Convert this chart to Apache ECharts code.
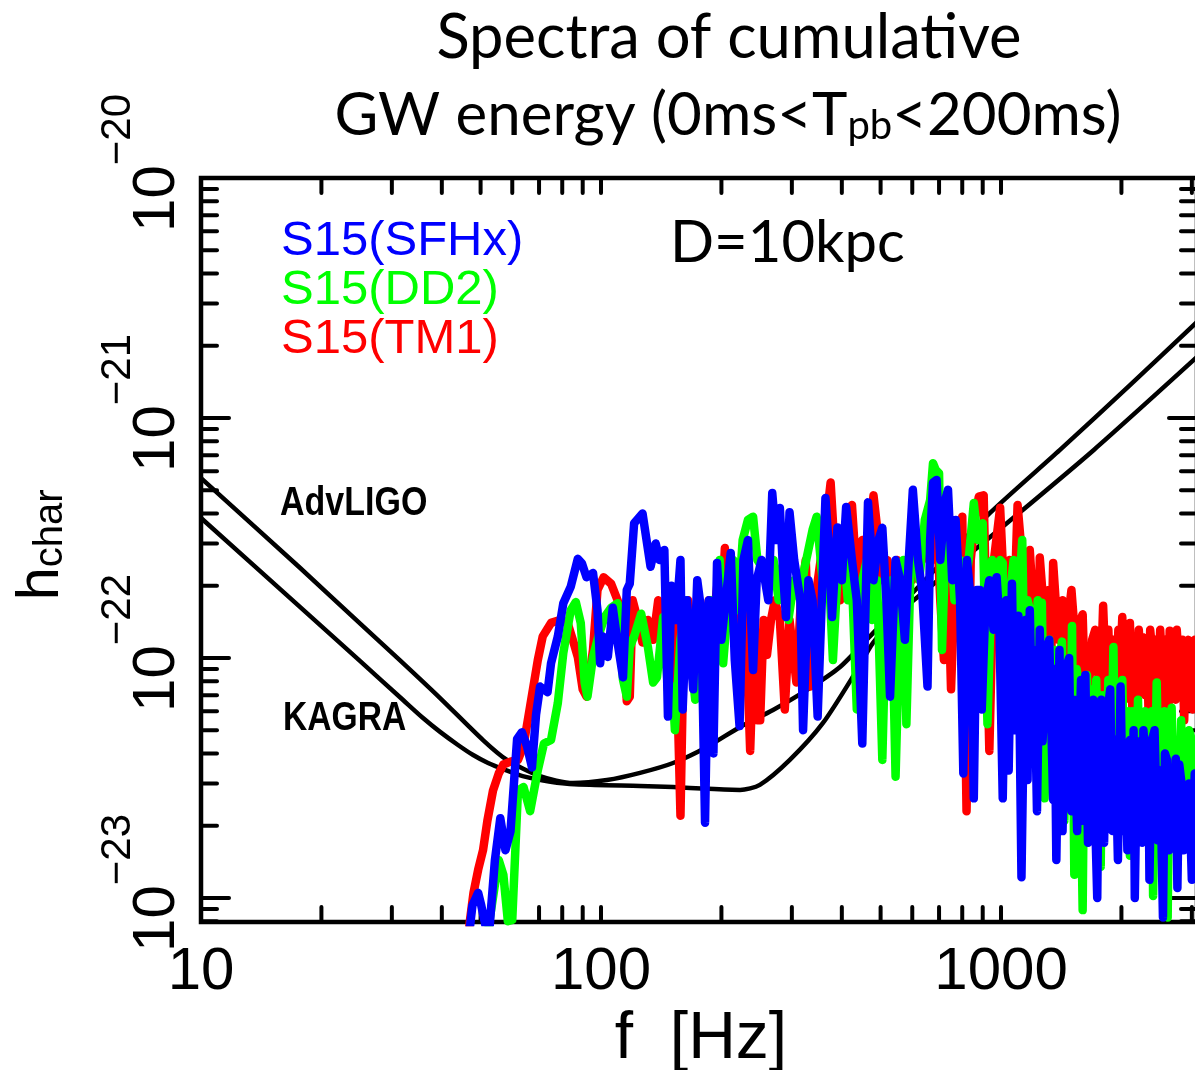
<!DOCTYPE html>
<html><head><meta charset="utf-8">
<script src="https://cdn.jsdelivr.net/npm/echarts@6/dist/echarts.min.js"></script>
<style>html,body{margin:0;padding:0;background:#fff}#chart{width:1195px;height:1070px}</style>
</head><body><div id="chart"></div>
<script>
// h values are given in units of 1e-22
const UNIT = 1e-22;
const X_MIN = 10, X_MAX = 3090, Y_MIN = 7.94e-24, Y_MAX = 1e-20;

const xTickValues = [20,30,40,50,60,70,80,90,100,200,300,400,500,600,700,800,900,1000,2000,3000];
const yMajorTicks = [1e-23, 1e-22, 1e-21];
const yMinorTicks = [8e-24,9e-24,2e-23,3e-23,4e-23,5e-23,6e-23,7e-23,8e-23,9e-23,
  2e-22,3e-22,4e-22,5e-22,6e-22,7e-22,8e-22,9e-22,2e-21,3e-21,4e-21,5e-21,6e-21,7e-21,8e-21,9e-21];

const advLIGO = [[10,5.62],[17.7,2.37],[25,1.39],[31.4,0.98],[39.6,0.681],[50.7,0.455],[58.2,0.376],[70.4,0.322],[85.1,0.301],[103.5,0.310],[125.2,0.332],[151.4,0.365],[184.1,0.426],[222.6,0.516],[269.2,0.607],[327.3,0.736],[395.9,0.917],[478.6,1.27],[627.3,2.01],[938.6,4.02],[1404,7.36],[2101,13.7],[3090,25.1]];
const kagra = [[10,3.83],[17.7,1.63],[25,0.97],[32,0.668],[35.9,0.562],[39.6,0.492],[43.9,0.434],[47.9,0.394],[52.2,0.365],[57.5,0.342],[63.7,0.322],[77.6,0.302],[93.8,0.296],[125.2,0.293],[151.4,0.290],[184.1,0.285],[222.6,0.282],[249.5,0.296],[296.5,0.376],[358.9,0.536],[436.5,0.891],[478.6,1.155],[559.8,1.556],[664.3,1.977],[788.4,2.51],[1009,3.52],[1706,7.36],[3090,17.95]];

const s15SFHx = [[46,0.055],[47.7,0.093],[49.3,0.105],[50.2,0.093],[51.4,0.077],[52.6,0.074],[54.3,0.144],[56,0.215],[57.7,0.158],[59.4,0.19],
[61.7,0.46],[63.4,0.49],[65.3,0.43],[67.2,0.35],[68.8,0.58],[70.4,0.76],[73.5,0.72],[75,0.95],[78,1.23],[80.5,1.69],
[84,1.98],[87.5,2.59],[89.6,2.48],[92,2.17],[95.5,2.26],[98,1.58],[99.5,0.95],[101,1.23],[104,1.01],[107,1.62],
[110,1.16],[113.5,0.83],[116,1.92],[118,2.04],[121,3.64],[127,4.0],[133,2.4],[137,3.0],[140,2.56],[144,2.82],
[147,0.57],[150,2.0],[154,1.44],[158,2.56],[160,0.61],[164,1.74],[170,0.74],[174,2.11],[178,1.58],[182,0.206],
[186,1.74],[191,0.40],[195,2.49],[200,1.19],[205,1.74],[211,2.74],[216,0.98],[222,0.52],[227,2.56],[233,3.10],
[240,0.89],[245,2.11],[252,2.56],[262,1.74],[268,4.87],[274,3.10],[280,4.22],[286,2.11],[290,1.48],[296,4.05],
[304,2.56],[315,1.74],[320,0.50],[330,2.11],[338,1.74],[348,0.57],[364,4.64],[373,2.56],[378,1.48],[390,3.5],
[400,2.11],[410,4.26],[424,2.56],[436,1.74],[450,0.44],[465,4.45],[480,2.11],[494,3.10],[505,3.49],[517,1.74],
[528,0.69],[545,2.56],[560,2.11],[575,1.19],[588,2.56],[602,5.02],[620,2.56],[635,1.92],[655,0.76],[665,3.10],
[676,5.38],[690,5.52],[705,2.56],[725,4.55],[737,5.02],[755,2.11],[770,3.76],[790,1.74],[805,0.33],[822,2.56],
[840,1.74],[855,0.26],[870,1.92],[885,1.92],[895,0.61],[915,1.74],[935,2.11],[958,1.31],[975,2.17],[990,1.44],
[1010,0.26],[1030,1.74],[1045,0.34],[1065,2.04],[1080,0.5],[1090,1.19],[1105,1.5],[1125,0.122],[1150,1.44],[1165,0.31],
[1180,1.58],[1195,0.6],[1210,1.08],[1230,0.23],[1250,1.31],[1270,0.45],[1285,0.67],[1300,1.1],[1320,1.19],[1350,0.256],
[1360,0.9],[1375,0.144],[1400,1.08],[1425,0.19],[1450,0.81],[1465,0.95],[1480,1.0],[1500,0.23],[1520,0.67],[1550,0.19],
[1585,0.81],[1600,0.21],[1625,0.85],[1650,0.17],[1670,0.55],[1700,0.67],[1720,0.21],[1740,0.10],[1760,0.6],[1780,0.67],
[1810,0.17],[1835,0.55],[1875,0.74],[1900,0.19],[1930,0.455],[1960,0.144],[1990,0.76],[2020,0.19],[2045,0.376],[2070,0.158],
[2100,0.455],[2130,0.21],[2145,0.5],[2160,0.10],[2190,0.45],[2220,0.376],[2250,0.17],[2270,0.5],[2290,0.41],[2320,0.19],
[2335,0.45],[2350,0.119],[2380,0.45],[2420,0.50],[2460,0.174],[2500,0.34],[2540,0.083],[2570,0.40],[2600,0.376],[2630,0.158],
[2650,0.34],[2680,0.174],[2710,0.256],[2735,0.38],[2760,0.11],[2790,0.36],[2820,0.31],[2860,0.158],[2900,0.28],[2950,0.30],
[3000,0.119],[3050,0.33],[3100,0.28]];

const s15DD2 = [[51,0.055],[52.6,0.080],[55.5,0.144],[57,0.125],[58.5,0.080],[60,0.081],[62,0.28],[64,0.29],[66.5,0.23],[69.5,0.34],
[72,0.44],[75,0.455],[78,0.65],[80.5,1.05],[84,1.58],[86.5,1.71],[89,1.40],[91,0.79],[92.5,0.69],[95.5,1.01],
[98.5,1.23],[102,1.48],[106,1.62],[110,1.69],[113.5,0.81],[116,0.69],[118,1.11],[121,1.23],[126,1.53],[131,1.11],
[135,0.79],[138,0.83],[143,1.48],[147,0.74],[151,0.76],[153,0.50],[158,1.19],[163,1.74],[167,1.08],[172,0.67],
[177,1.44],[182,0.98],[188,1.74],[193,1.31],[198,2.56],[202,0.95],[208,1.74],[214,2.56],[220,1.58],[226,3.10],
[233,3.76],[240,3.88],[246,2.56],[255,2.33],[264,1.98],[270,2.56],[278,1.74],[286,2.56],[294,1.44],[304,2.11],
[315,1.74],[322,2.33],[338,3.42],[346,3.88],[358,2.11],[370,2.56],[380,0.98],[392,2.56],[402,3.10],[414,1.74],
[424,2.11],[436,0.61],[450,2.11],[462,2.56],[476,1.44],[490,2.11],[505,0.376],[517,1.74],[532,2.11],[545,0.32],
[560,1.74],[570,2.56],[580,0.53],[595,2.56],[610,3.42],[625,2.11],[645,3.76],[665,4.55],[676,6.48],[687,6.07],
[700,5.88],[712,1.08],[730,3.76],[748,3.10],[765,1.74],[790,2.56],[805,1.74],[830,2.56],[855,4.42],[875,3.10],
[900,3.64],[925,0.53],[950,2.56],[970,1.74],[995,2.56],[1010,2.49],[1020,0.52],[1050,1.74],[1075,2.56],[1090,0.67],
[1105,1.74],[1130,3.10],[1150,0.55],[1165,1.74],[1200,1.44],[1215,0.50],[1235,1.74],[1250,0.55],[1265,1.70],[1285,0.26],
[1320,1.19],[1340,0.41],[1360,1.08],[1385,0.376],[1400,0.98],[1420,1.17],[1440,0.21],[1460,0.9],[1475,0.98],[1490,0.41],
[1505,1.36],[1525,0.125],[1545,0.9],[1560,0.81],[1580,0.34],[1600,0.089],[1620,0.8],[1640,0.85],[1660,0.31],[1690,0.74],
[1710,0.28],[1730,0.81],[1775,0.135],[1795,0.7],[1815,0.67],[1835,0.31],[1855,0.81],[1880,0.28],[1910,1.11],[1930,0.31],
[1955,0.67],[1980,0.3],[2010,0.81],[2035,0.28],[2060,0.55],[2080,0.6],[2100,0.15],[2125,0.6],[2150,0.55],[2175,0.256],
[2200,0.67],[2230,0.28],[2260,0.455],[2290,0.6],[2320,0.55],[2360,0.23],[2380,0.6],[2400,0.102],[2450,0.79],[2480,0.256],
[2520,0.455],[2560,0.6],[2610,0.083],[2640,0.55],[2670,0.62],[2700,0.21],[2740,0.376],[2780,0.256],[2820,0.55],[2860,0.23],
[2900,0.31],[2950,0.5],[3000,0.455],[3050,0.21],[3100,0.31]];

const s15TM1 = [[46,0.055],[47,0.080],[48,0.105],[49.3,0.131],[50.7,0.158],[52,0.21],[53.7,0.28],[55.5,0.33],[57,0.36],[59.4,0.37],
[62,0.376],[64,0.43],[66.5,0.63],[69.5,0.98],[71.5,1.23],[75,1.40],[79,1.44],[82.5,1.40],[85,1.19],[87.5,1.01],
[90,0.74],[92,0.69],[95.5,1.08],[98,1.92],[101.5,2.17],[106,2.04],[110,1.74],[113.5,1.48],[116,0.66],[118,0.69],
[120,1.74],[123,1.48],[127,1.16],[131,1.44],[135,1.19],[139,1.74],[143,1.44],[147,1.08],[150,1.74],[154,1.19],
[158,0.22],[161,1.19],[165,1.74],[169,1.19],[174,1.44],[179,1.08],[186,1.74],[191,1.44],[196,2.11],[200,1.44],
[204,2.87],[210,1.74],[217,1.19],[222,1.74],[230,1.44],[236,0.41],[242,1.44],[246,0.55],[250,0.55],[255,1.44],
[260,1.03],[266,1.44],[272,1.74],[280,1.44],[288,0.61],[296,1.44],[308,0.79],[316,1.74],[325,2.56],[333,0.76],
[343,1.74],[354,2.56],[366,3.76],[375,5.38],[385,2.56],[396,1.74],[405,3.10],[414,4.14],[424,4.34],[436,2.11],
[450,3.10],[462,2.56],[480,4.76],[494,3.10],[505,2.11],[520,2.56],[535,1.74],[550,2.56],[565,2.11],[580,2.56],
[600,2.11],[615,3.10],[635,2.56],[650,3.76],[672,2.56],[690,3.76],[705,1.74],[720,0.98],[735,2.56],[750,0.74],
[770,2.56],[785,3.10],[800,3.88],[820,0.23],[840,2.56],[860,3.76],[880,4.70],[905,4.76],[935,0.41],[960,2.56],
[995,4.23],[1020,1.74],[1050,2.56],[1070,0.98],[1100,4.34],[1130,2.56],[1150,1.74],[1180,2.82],[1210,1.44],[1235,0.81],
[1250,2.62],[1285,1.44],[1315,1.92],[1330,0.74],[1350,2.49],[1390,1.19],[1425,1.74],[1450,0.67],[1470,1.44],[1500,1.92],
[1520,1.44],[1545,0.81],[1580,1.44],[1600,1.52],[1620,0.74],[1650,0.67],[1690,1.19],[1720,1.31],[1740,0.98],[1770,0.67],
[1800,1.65],[1830,0.8],[1855,1.31],[1880,0.61],[1910,1.19],[1940,0.7],[1965,1.31],[1990,0.98],[2010,1.48],[2035,0.67],
[2060,1.2],[2080,0.81],[2100,1.40],[2130,0.61],[2160,1.1],[2185,0.67],[2210,1.31],[2235,0.98],[2260,1.22],[2290,0.7],
[2320,1.08],[2340,0.55],[2360,1.31],[2400,0.98],[2430,1.19],[2460,0.67],[2500,1.31],[2540,0.81],[2570,0.61],[2600,1.2],
[2620,0.55],[2640,1.30],[2670,0.7],[2700,1.1],[2730,0.67],[2750,1.31],[2800,0.81],[2840,1.19],[2870,0.55],[2900,1.0],
[2940,1.19],[2980,0.98],[3010,0.61],[3050,1.19],[3100,0.74]];

const toData = arr => arr.map(p => [p[0], p[1] * UNIT]);
const SANS = 'Liberation Sans';
const SLIDE = 'Lato';
const tickStyle = {stroke: '#000', lineWidth: 4, lineCap: 'round'};

function xTickRender(params, api) {
  const f = api.value(0);
  const b = api.coord([f, Y_MIN]);
  const t = api.coord([f, Y_MAX]);
  return {type: 'group', children: [
    {type: 'line', shape: {x1: b[0], y1: b[1], x2: b[0], y2: b[1] - 15}, style: tickStyle},
    {type: 'line', shape: {x1: t[0], y1: t[1], x2: t[0], y2: t[1] + 15}, style: tickStyle}
  ]};
}
function yTickRender(params, api) {
  const h = api.value(1);
  const len = api.value(2) ? 28 : 16;
  const l = api.coord([X_MIN, h]);
  const r = api.coord([X_MAX, h]);
  return {type: 'group', children: [
    {type: 'line', shape: {x1: l[0], y1: l[1], x2: l[0] + len, y2: l[1]}, style: tickStyle},
    {type: 'line', shape: {x1: r[0], y1: r[1], x2: r[0] - len, y2: r[1]}, style: tickStyle}
  ]};
}

const chart = echarts.init(document.getElementById('chart'), null, {renderer: 'canvas'});
const dataLine = (name, arr, color, z) => ({
  name, type: 'line', data: toData(arr), showSymbol: false, symbol: 'none', clip: true, z, silent: true,
  lineStyle: {color, width: 8.5, cap: 'round', join: 'round'}, itemStyle: {color}
});
const detLine = (name, arr) => ({
  name, type: 'line', data: toData(arr), showSymbol: false, symbol: 'none', smooth: 0.25, clip: true, z: 2, silent: true,
  lineStyle: {color: '#000', width: 4.5, join: 'round'}
});

chart.setOption({
  animation: false,
  backgroundColor: '#fff',
  grid: {left: 201, top: 178, width: 996, height: 744, show: true, borderColor: '#000', borderWidth: 4.5,
         backgroundColor: 'transparent', containLabel: false, outerBoundsMode: 'none'},
  xAxis: {type: 'log', logBase: 10, min: X_MIN, max: X_MAX,
    axisLine: {show: false}, axisTick: {show: false}, splitLine: {show: false},
    axisLabel: {show: true, color: '#000', fontSize: 60, fontFamily: SANS, margin: 20, showMaxLabel: false,
      formatter: v => { const e = Math.log10(v); return Math.abs(e - Math.round(e)) < 1e-6 ? String(Math.round(v)) : ''; }}},
  yAxis: {type: 'log', logBase: 10, min: Y_MIN, max: Y_MAX,
    axisLine: {show: false}, axisTick: {show: false}, splitLine: {show: false},
    axisLabel: {show: true, rotate: 90, margin: 14, showMinLabel: false, padding: [0, 0, 0, 30],
      formatter: v => { const e = Math.log10(v); if (Math.abs(e - Math.round(e)) > 1e-6) return ''; return '{b|10}{s|\u2212' + (-Math.round(e)) + '}'; },
      rich: {
        b: {fontSize: 60, fontFamily: SANS, color: '#000', lineHeight: 90, verticalAlign: 'bottom'},
        s: {fontSize: 42, fontFamily: SANS, color: '#000', lineHeight: 43, verticalAlign: 'top'}
      }}},
  legend: {orient: 'vertical', left: 271, top: 212, itemGap: 0, icon: 'none', itemWidth: 0, itemHeight: 0, selectedMode: false,
    textStyle: {fontSize: 49, fontFamily: SANS, lineHeight: 48},
    data: [
      {name: 'S15(SFHx)', textStyle: {color: '#0000ff'}},
      {name: 'S15(DD2)', textStyle: {color: '#00ff00'}},
      {name: 'S15(TM1)', textStyle: {color: '#ff0000'}}
    ]},
  graphic: [
    {type: 'text', x: 729, y: 38, style: {text: 'Spectra of cumulative', fontSize: 61.5, fontFamily: SLIDE, fill: '#000', align: 'center', verticalAlign: 'middle'}},
    {type: 'text', x: 728, y: 116, style: {text: '{m|GW energy (0ms<T}{s|pb}{m|<200ms)}', align: 'center', verticalAlign: 'middle',
      rich: {m: {fontSize: 60, fontFamily: SLIDE, fill: '#000', color: '#000', lineHeight: 60, verticalAlign: 'top'},
             s: {fontSize: 40, fontFamily: SLIDE, fill: '#000', color: '#000', lineHeight: 14, verticalAlign: 'bottom'}}}},
    {type: 'text', x: 670, y: 243, style: {text: 'D=10kpc', fontSize: 58, fontFamily: SLIDE, fill: '#000', align: 'left', verticalAlign: 'middle'}},
    {type: 'text', x: 280, y: 504, scaleX: 0.85, style: {text: 'AdvLIGO', fontSize: 40, fontWeight: 'bold', fontFamily: SANS, fill: '#000', align: 'left', verticalAlign: 'middle'}},
    {type: 'text', x: 283, y: 719, scaleX: 0.84, style: {text: 'KAGRA', fontSize: 40, fontWeight: 'bold', fontFamily: SANS, fill: '#000', align: 'left', verticalAlign: 'middle'}},
    {type: 'text', x: 701, y: 1040, style: {text: 'f  [Hz]', fontSize: 66, fontFamily: SANS, fill: '#000', align: 'center', verticalAlign: 'middle'}},
    {type: 'text', x: 41, y: 545, rotation: Math.PI / 2, style: {text: '{h|h}{c|char}', align: 'center', verticalAlign: 'middle',
      rich: {h: {fontSize: 60, fontFamily: SANS, fill: '#000', color: '#000', lineHeight: 60, verticalAlign: 'top'},
             c: {fontSize: 40, fontFamily: SANS, fill: '#000', color: '#000', lineHeight: 16, verticalAlign: 'bottom'}}}}
  ],
  series: [
    {type: 'custom', name: 'xticks', renderItem: xTickRender, data: xTickValues.map(f => [f, Y_MIN]), encode: {x: 0, y: 1}, z: 1, silent: true, clip: false},
    {type: 'custom', name: 'yticks', renderItem: yTickRender,
      data: yMajorTicks.map(h => [X_MIN, h, 1]).concat(yMinorTicks.map(h => [X_MIN, h, 0])), encode: {x: 0, y: 1}, z: 1, silent: true, clip: false},
    detLine('AdvLIGO', advLIGO),
    detLine('KAGRA', kagra),
    dataLine('S15(TM1)', s15TM1, '#ff0000', 3),
    dataLine('S15(DD2)', s15DD2, '#00ff00', 4),
    dataLine('S15(SFHx)', s15SFHx, '#0000ff', 5)
  ]
});
</script></body></html>
